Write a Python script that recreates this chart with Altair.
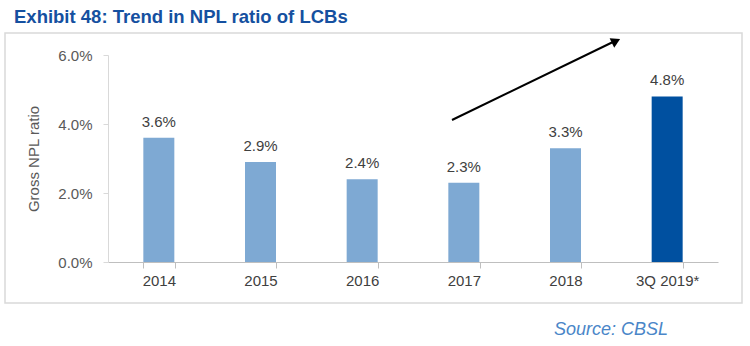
import altair as alt
import pandas as pd

years = ["2014", "2015", "2016", "2017", "2018", "3Q 2019*"]
npl = [0.036, 0.029, 0.024, 0.023, 0.033, 0.048]
labels = ["3.6%", "2.9%", "2.4%", "2.3%", "3.3%", "4.8%"]
highlight = ["no", "no", "no", "no", "no", "yes"]

df = pd.DataFrame({"year": years, "npl": npl, "label": labels, "hl": highlight})

FONT = "Liberation Sans"
W, H = 610, 207

xenc = alt.X("year:N", sort=years, title=None,
             scale=alt.Scale(paddingInner=0.69, paddingOuter=0.345),
             axis=alt.Axis(labelAngle=0, labelFontSize=15, labelColor="#404040", labelFont=FONT,
                           domainColor="#BFBFBF", tickColor="#BFBFBF", tickBand="extent",
                           tickSize=6, labelPadding=5))
yenc = alt.Y("npl:Q", title="Gross NPL ratio",
             scale=alt.Scale(domain=[0, 0.06]),
             axis=alt.Axis(values=[0, 0.02, 0.04, 0.06], format=".1%", grid=False,
                           labelFontSize=15, labelColor="#595959", labelFont=FONT,
                           titleFontSize=15, titleFont=FONT, titleColor="#595959",
                           titleFontWeight="normal", titlePadding=16,
                           domainColor="#D9D9D9", tickColor="#D9D9D9", tickSize=5, labelPadding=11))

frame = alt.Chart(pd.DataFrame({"a": [1]})).mark_rect(
    fillOpacity=0, stroke="#D9D9D9", strokeWidth=1.5, clip=False
).encode(x=alt.value(-103), x2=alt.value(634), y=alt.value(-22), y2=alt.value(248))

bars = alt.Chart(df).mark_bar(size=31).encode(
    x=xenc, y=yenc,
    color=alt.Color("hl:N", scale=alt.Scale(domain=["no", "yes"], range=["#7EA9D3", "#0050A0"]), legend=None),
)

text = alt.Chart(df).mark_text(dy=-8, baseline="bottom", fontSize=15, font=FONT, color="#404040").encode(
    x=alt.X("year:N", sort=years), y="npl:Q", text="label:N"
)

arrow_line = alt.Chart(pd.DataFrame({"a": [1]})).mark_rule(color="black", strokeWidth=2, clip=False).encode(
    x=alt.value(344), y=alt.value(65), x2=alt.value(507), y2=alt.value(-14)
)
arrow_head = alt.Chart(pd.DataFrame({"a": [1]})).mark_point(
    shape="triangle-right", filled=True, color="black", size=110, angle=334, opacity=1, clip=False
).encode(x=alt.value(508), y=alt.value(-14))

source = alt.Chart(pd.DataFrame({"t": ["Source: CBSL"]})).mark_text(
    align="right", baseline="middle", fontSize=18, font=FONT, fontStyle="italic", color="#4A86C8", clip=False
).encode(x=alt.value(560), y=alt.value(275), text="t:N")

chart = alt.layer(frame, bars, text, arrow_line, arrow_head, source).properties(
    width=W, height=H,
    title=alt.TitleParams("Exhibit 48: Trend in NPL ratio of LCBs", anchor="start", frame="group",
                          font=FONT, fontSize=18.5, fontWeight="bold", color="#1550A0",
                          dx=-94, offset=6),
    autosize=alt.AutoSizeParams(type="none"),
    padding={"left": 108, "top": 55, "right": 32, "bottom": 84},
).configure_view(stroke=None)

chart.save("out.html", embed_options={"renderer": "svg", "actions": False})
